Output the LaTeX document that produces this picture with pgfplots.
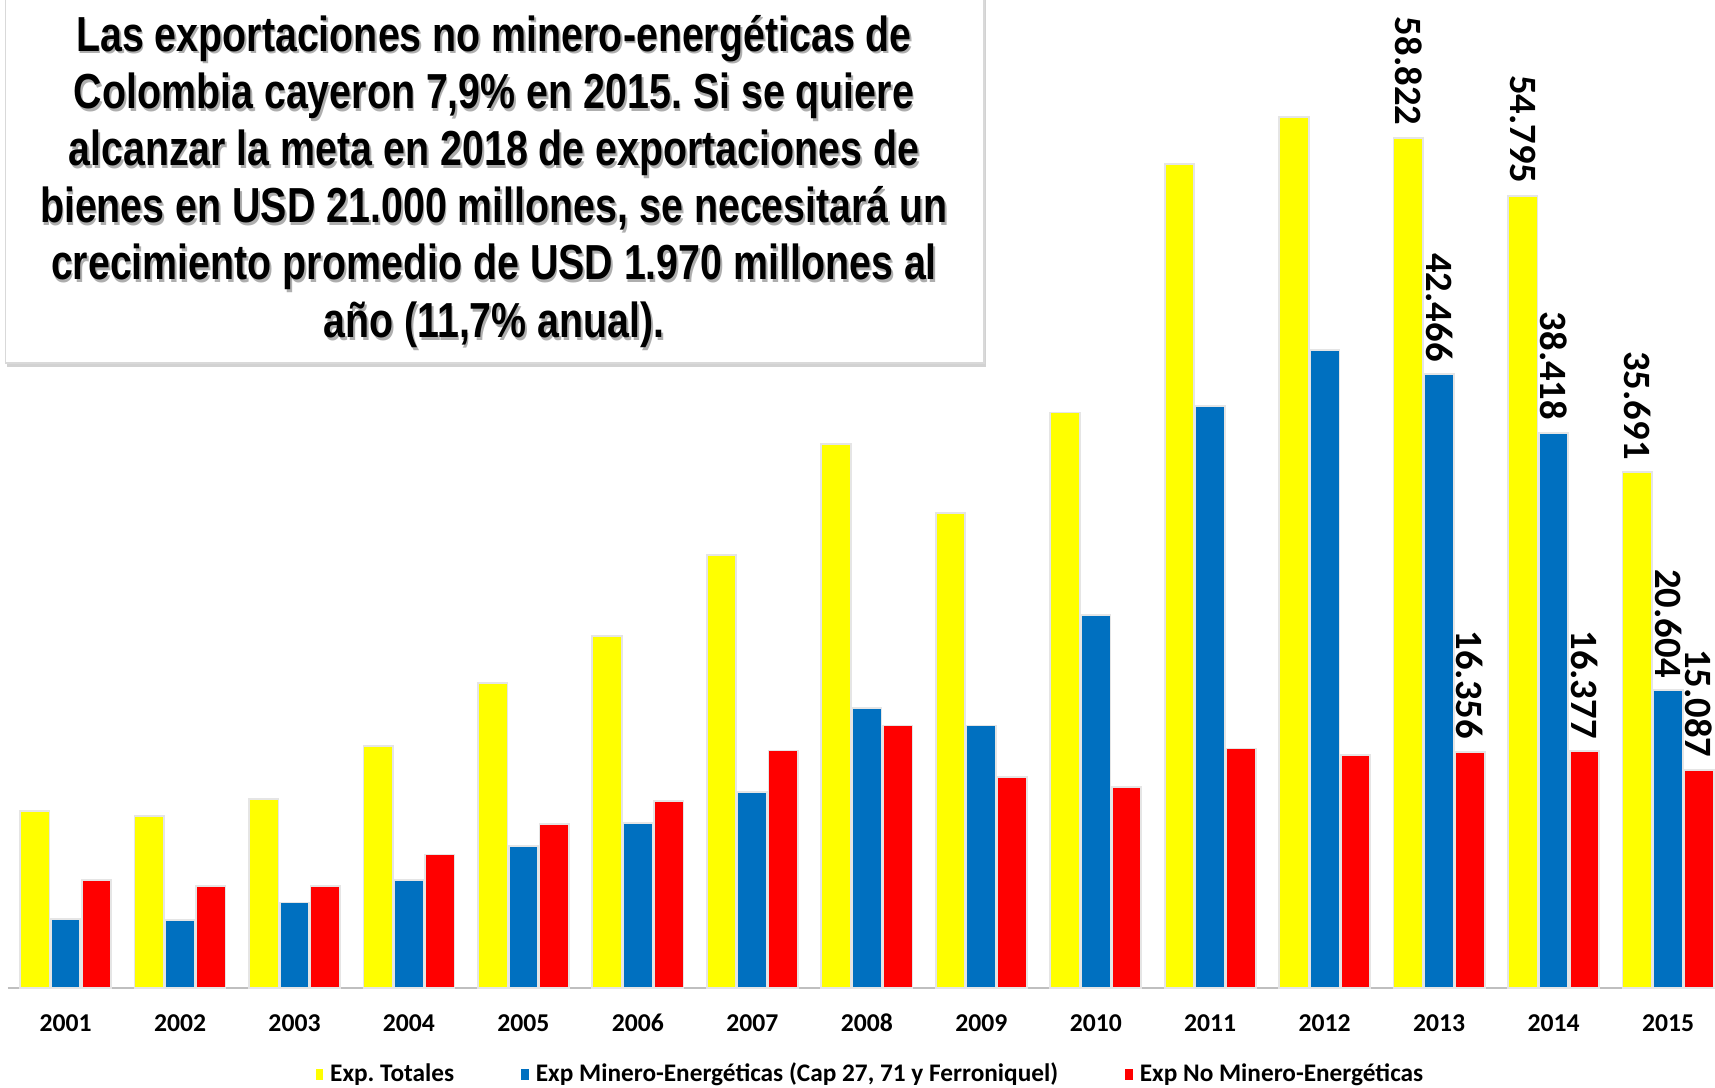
\documentclass[border=0pt]{standalone}
\usepackage{fontspec}
\usepackage{pgfplots}
\pgfplotsset{compat=1.18}
\usetikzlibrary{shadows}
\setmainfont{Carlito}
\newfontfamily\titlefont[FakeStretch=0.80]{Liberation Sans}
\definecolor{cy}{HTML}{FFFF00}
\definecolor{cb}{HTML}{0070C0}
\definecolor{cr}{HTML}{FF0000}
\frenchspacing
\newcommand\tline[2]{%
  \node[anchor=base, xshift=0.018cm, yshift=-0.03cm, text=black!45, opacity=0.7] at (4.94,#1) {\titlefont\bfseries\fontsize{14}{16}\selectfont #2};
  \node[anchor=base] at (4.94,#1) {\titlefont\bfseries\fontsize{14}{16}\selectfont #2};}
\begin{document}
\begin{tikzpicture}[x=1cm,y=1cm]
\useasboundingbox (0,0) rectangle (17.15,10.87);
\fill[white] (0,0) rectangle (17.15,10.87);
\begin{axis}[
  at={(0.08cm,0.99cm)}, anchor=south west,
  scale only axis, width=17.07cm, height=9.88cm,
  xmin=-0.503, xmax=14.41, ymin=0, ymax=68.36,
  clip=false,
  axis x line=bottom, axis y line=none,
  axis line style={-, draw=black!25, line width=0.2mm},
  ytick=\empty,
  xtick={0,...,14},
  xticklabels={2001,2002,2003,2004,2005,2006,2007,2008,2009,2010,2011,2012,2013,2014,2015},
  major tick length=0pt,
  xticklabel style={font=\bfseries\fontsize{7.3}{8}\selectfont, anchor=center, yshift=-0.35cm},
  ybar=0.013cm, bar width=0.295cm,
  every axis plot/.append style={draw=black!10, line width=0.5pt},
  point meta=explicit symbolic,
  nodes near coords,
  nodes near coords style={rotate=-90, anchor=east, font=\bfseries\fontsize{11}{12}\selectfont, text=black},
  legend style={at={(axis description cs:0.5067,-0.088)}, anchor=center, draw=none, fill=none,
    legend columns=3, font=\bfseries\fontsize{7.2}{8}\selectfont,
    /tikz/every even column/.append style={column sep=0.6cm}},
  legend image code/.code={\fill[#1, draw=none] (0,-0.055cm) rectangle (0.076cm,0.055cm);},
]
\addplot[fill=cy] table[meta=lab] {
x y lab
0 12.26 {}
1 11.89 {}
2 13.10 {}
3 16.73 {}
4 21.12 {}
5 24.38 {}
6 29.98 {}
7 37.63 {}
8 32.86 {}
9 39.82 {}
10 57.01 {}
11 60.26 {}
12 58.822 58.822
13 54.795 54.795
14 35.691 35.691
};
\addplot[fill=cb] table[meta=lab] {
x y lab
0 4.77 {}
1 4.69 {}
2 5.91 {}
3 7.49 {}
4 9.84 {}
5 11.43 {}
6 13.55 {}
7 19.38 {}
8 18.17 {}
9 25.82 {}
10 40.28 {}
11 44.14 {}
12 42.466 42.466
13 38.418 38.418
14 20.604 20.604
};
\addplot[fill=cr] table[meta=lab] {
x y lab
0 7.49 {}
1 7.04 {}
2 7.04 {}
3 9.24 {}
4 11.36 {}
5 12.95 {}
6 16.43 {}
7 18.17 {}
8 14.61 {}
9 13.93 {}
10 16.58 {}
11 16.13 {}
12 16.356 16.356
13 16.377 16.377
14 15.087 15.087
};
\legend{Exp. Totales, {Exp Minero-Energéticas (Cap 27, 71 y Ferroniquel)}, Exp No Minero-Energéticas}
\end{axis}
\path[fill=white, draw=black!15, drop shadow={shadow xshift=0.02cm, shadow yshift=-0.04cm, opacity=0.35}] (0.055,7.24) rectangle (9.84,11.0);
\tline{10.36}{Las exportaciones no minero-energéticas de}
\tline{9.788}{Colombia cayeron 7,9\% en 2015. Si se quiere}
\tline{9.216}{alcanzar la meta en 2018 de exportaciones de}
\tline{8.644}{bienes en USD 21.000 millones, se necesitará un}
\tline{8.072}{crecimiento promedio de USD 1.970 millones al}
\tline{7.50}{año (11,7\% anual).}
\end{tikzpicture}
\end{document}
